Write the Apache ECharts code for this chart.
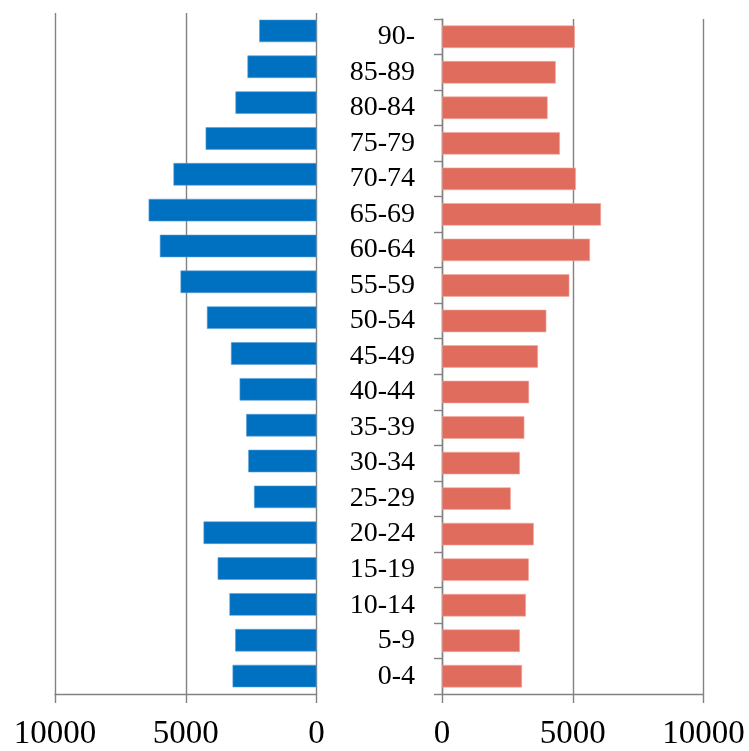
<!DOCTYPE html>
<html>
<head>
<meta charset="utf-8">
<script src="https://cdn.jsdelivr.net/npm/echarts@6/dist/echarts.min.js"></script>
<style>
  html, body { margin: 0; padding: 0; background: #fff; }
  #chart { width: 749px; height: 751px; }
</style>
</head>
<body>
<div id="chart"></div>
<script>
// Age groups, bottom (youngest) to top (oldest)
const ageGroups = ['0-4', '5-9', '10-14', '15-19', '20-24', '25-29', '30-34', '35-39', '40-44',
  '45-49', '50-54', '55-59', '60-64', '65-69', '70-74', '75-79', '80-84', '85-89', '90-'];

// Left side (blue) population per age group
const leftValues = [3210, 3110, 3330, 3780, 4320, 2390, 2610, 2690, 2940,
  3270, 4190, 5200, 5990, 6420, 5470, 4240, 3100, 2640, 2190];

// Right side (red) population per age group
const rightValues = [3060, 2980, 3210, 3320, 3510, 2630, 2980, 3150, 3330,
  3670, 3990, 4870, 5660, 6080, 5120, 4510, 4040, 4350, 5080];

// Value axis bounds and tick step
const axisMin = 0;
const axisMax = 10000;
const axisStep = 5000;

const gray = '#828282';
const serif = '"Liberation Serif", "DejaVu Serif", serif';

const valueAxisCommon = {
  type: 'value',
  min: axisMin,
  max: axisMax,
  interval: axisStep,
  axisLine: { show: true, lineStyle: { color: gray, width: 1.4 } },
  axisTick: { show: true, length: 9, lineStyle: { color: gray, width: 1.4 } },
  splitLine: { show: true, lineStyle: { color: gray, width: 1.4 } },
  axisLabel: {
    fontFamily: serif, fontSize: 33, color: '#000', margin: 24,
    formatter: (v) => String(v)
  }
};

const chart = echarts.init(document.getElementById('chart'), null, { renderer: 'canvas' });

chart.setOption({
  animation: false,
  backgroundColor: '#fff',
  grid: [
    { left: 55, width: 261.5, top: 13, bottom: 55 },
    { left: 442, width: 261.5, top: 19, bottom: 55 }
  ],
  xAxis: [
    Object.assign({ gridIndex: 0, inverse: true }, valueAxisCommon),
    Object.assign({ gridIndex: 1 }, valueAxisCommon)
  ],
  yAxis: [
    {
      type: 'category',
      gridIndex: 0,
      data: ageGroups,
      axisLine: { show: false },
      axisTick: { show: false },
      axisLabel: { show: false }
    },
    {
      type: 'category',
      gridIndex: 1,
      data: ageGroups,
      position: 'left',
      axisLine: { show: true, lineStyle: { color: gray, width: 1.4 } },
      axisTick: { show: true, interval: 0, length: 8, lineStyle: { color: gray, width: 1.4 } },
      axisLabel: {
        interval: 0, hideOverlap: false,
        fontFamily: serif, fontSize: 28, color: '#000', margin: 27, align: 'right'
      }
    }
  ],
  series: [
    {
      type: 'bar',
      xAxisIndex: 0,
      yAxisIndex: 0,
      data: leftValues,
      barWidth: 22.5,
      itemStyle: { color: '#0070C0', borderColor: '#5aa0d8', borderWidth: 0.6 }
    },
    {
      type: 'bar',
      xAxisIndex: 1,
      yAxisIndex: 1,
      data: rightValues,
      barWidth: 22.5,
      itemStyle: { color: '#E06C5D', borderColor: '#f2aaa0', borderWidth: 0.6 }
    }
  ]
});
</script>
</body>
</html>
